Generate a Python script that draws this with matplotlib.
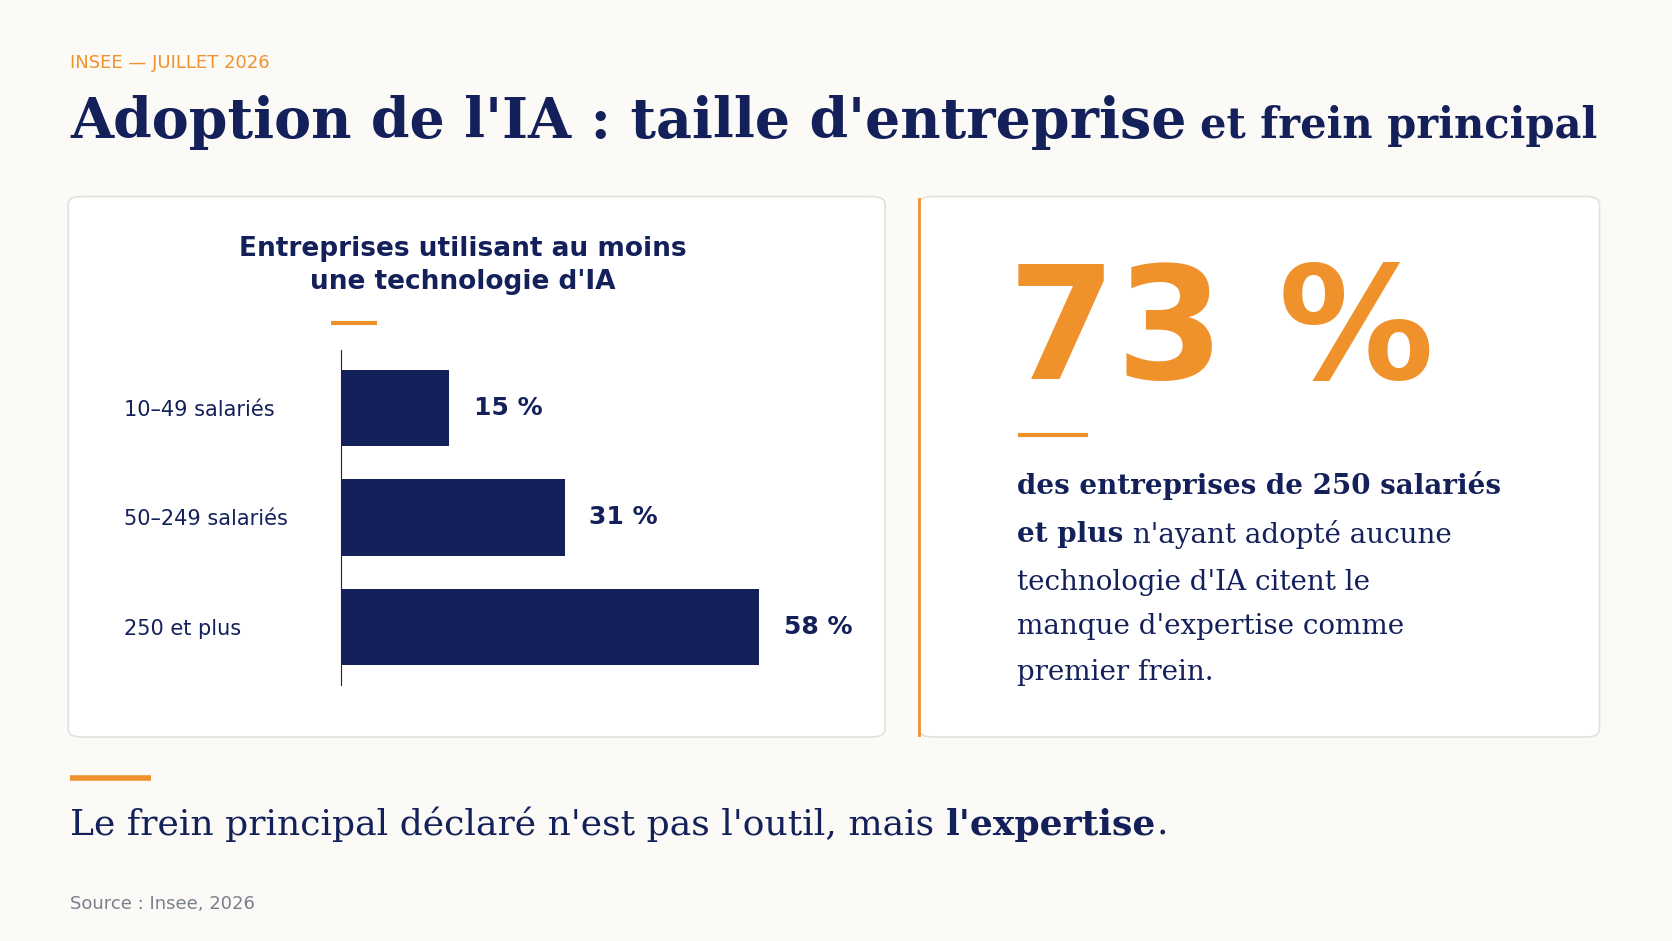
import matplotlib
matplotlib.use('Agg')
import matplotlib.pyplot as plt
from matplotlib.patches import FancyBboxPatch
from matplotlib.lines import Line2D

categories = ['10–49 salariés', '50–249 salariés', '250 et plus']
values = [15, 31, 58]
value_labels = ['15 %', '31 %', '58 %']
big_stat = '73 %'
stat_lines = [
    [('des entreprises de 250 salariés', 'bold')],
    [('et plus', 'bold'), (" n'ayant adopté aucune", 'normal')],
    [("technologie d'IA citent le", 'normal')],
    [("manque d'expertise comme", 'normal')],
    [('premier frein.', 'normal')],
]

NAVY = '#14205a'
ORANGE = '#f0922b'
BG = '#fbfaf6'
SERIF = ['DejaVu Serif']
SANS = ['DejaVu Sans']

W, H = 1568, 881
fig = plt.figure(figsize=(16.72, 9.41), dpi=100, facecolor=BG)


def fx(x):
    return x / W


def fy(y):
    return 1 - y / H


def hline(x0, x1, y, lw=3):
    fig.add_artist(Line2D([fx(x0), fx(x1)], [fy(y), fy(y)], color=ORANGE, lw=lw,
                          solid_capstyle='butt'))


def runs(x, y, parts, size, family, color=NAVY):
    # draw text pieces side by side with their own weights
    r = fig.canvas.get_renderer()
    cur = fx(x)
    for s, w in parts:
        t = fig.text(cur, fy(y), s, fontsize=size, fontweight=w, family=family,
                     color=color, va='center', ha='left')
        bb = t.get_window_extent(renderer=r).transformed(fig.transFigure.inverted())
        cur = bb.x1
    return cur


fig.text(fx(66), fy(59), 'INSEE — JUILLET 2026', fontsize=13, color=ORANGE,
         family=SANS, va='center')
end = runs(66, 115, [("Adoption de l'IA : taille d'entreprise", 'bold')], 40, SERIF)
fig.text(end + 0.008, fy(118), 'et frein principal', fontsize=30, fontweight='bold',
         family=SERIF, color=NAVY, va='center')

# cards
for x0, x1 in [(64, 830), (862, 1500)]:
    fig.add_artist(FancyBboxPatch((fx(x0), fy(690)), fx(x1 - x0), (690 - 184) / H,
                                  boxstyle='round,pad=0,rounding_size=0.008',
                                  transform=fig.transFigure, facecolor='white',
                                  edgecolor='#e3e1dc', lw=1.2, zorder=0.5))
fig.add_artist(Line2D([fx(862), fx(862)], [fy(186), fy(688)], color=ORANGE, lw=2))

fig.text(fx(434), fy(249), "Entreprises utilisant au moins\nune technologie d'IA",
         fontsize=19, fontweight='bold', family=SANS, color=NAVY, ha='center',
         va='center', linespacing=1.35)
hline(310, 354, 302)

# bar chart
ax = fig.add_axes([fx(320), fy(641), fx(712 - 320) * 80 / 58, (641 - 328) / H])
ax.set_zorder(2)
ax.set_facecolor('none')
ypos = list(range(len(values)))
ax.barh(ypos, values, height=0.7, color=NAVY)
ax.set_xlim(0, 80)
ax.set_ylim(2.53, -0.53)
for i, (v, lab) in enumerate(zip(values, value_labels)):
    ax.text(v + 3.4, i, lab, fontsize=18, fontweight='bold', family=SANS, color=NAVY,
            va='center')
ax.set_xticks([])
ax.set_yticks(ypos)
ax.set_yticklabels(categories, fontsize=15, family=SANS, color=NAVY)
for lab in ax.get_yticklabels():
    lab.set_horizontalalignment('left')
ax.tick_params(axis='y', length=0, pad=(320 - 116) * 1672 / W * 0.72)
for s in ['top', 'right', 'bottom']:
    ax.spines[s].set_visible(False)
ax.spines['left'].set_color(NAVY)

# stat panel
fig.text(fx(945), fy(315), big_stat, fontsize=112, fontweight='bold', family=SANS,
         color=ORANGE, va='center')
hline(955, 1020, 407)
ys = [455, 500, 545, 587, 630]
for y, parts in zip(ys, stat_lines):
    runs(954, y, parts, 20, SERIF)

hline(66, 142, 728, lw=4)
runs(66, 772, [("Le frein principal déclaré n'est pas l'outil, mais ", 'normal'),
               ("l'expertise", 'bold'), ('.', 'normal')], 26, SERIF)
fig.text(fx(66), fy(846), 'Source : Insee, 2026', fontsize=13, color='#7a7f8c',
         family=SANS, va='center')

fig.savefig('out.png', dpi=100, facecolor=BG)
